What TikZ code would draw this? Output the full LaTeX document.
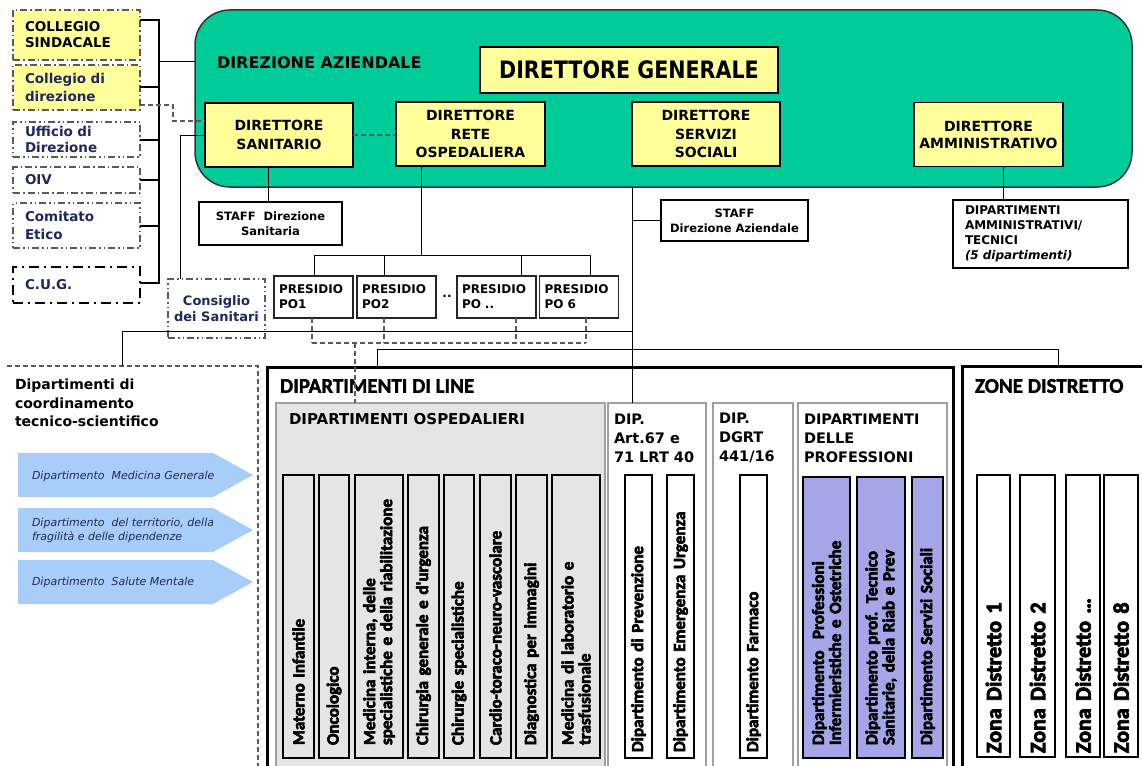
\documentclass[tikz,border=0pt]{standalone}
\usepackage{fontspec}
\usepackage{graphicx}
\setmainfont{DejaVu Sans}
\newfontfamily\calib{Carlito}[BoldFeatures={FakeBold=3.5}]
\newfontfamily\calibt{Carlito}[BoldFeatures={FakeBold=1.6}]
\usetikzlibrary{calc}
\newcommand\myfs[2]{\fontsize{#1}{#2}\selectfont}
\definecolor{grn}{RGB}{0,204,153}
\definecolor{ylw}{RGB}{255,255,153}
\definecolor{navy}{RGB}{31,40,96}
\definecolor{lgray}{RGB}{229,229,229}
\definecolor{mgray}{RGB}{160,160,160}
\definecolor{purp}{RGB}{165,165,232}
\definecolor{lblue}{RGB}{168,205,248}
\definecolor{dgray}{RGB}{90,90,90}
\begin{document}
\begin{tikzpicture}[x=1pt,y=-1pt,
  every node/.style={inner sep=0pt, outer sep=0pt},
  leftbox/.style={draw=dgray, line width=1.3pt, dash pattern=on 7pt off 3pt on 1.5pt off 3pt,
    text width=103pt, inner xsep=12pt, align=left, font=\bfseries\myfs{13.5}{16}},
  dashdotdot/.style={dash pattern=on 7pt off 3pt on 1.5pt off 3pt on 1.5pt off 3pt},
  dirbox/.style={draw=black, line width=1.5pt, fill=ylw, align=center, font=\bfseries\myfs{14}{18.5}},
  staffbox/.style={draw=black, line width=1.5pt, fill=white, align=center, font=\bfseries\myfs{11.5}{15}},
  pobox/.style={draw=black!85, line width=1.5pt, fill=white, align=left, text width=69pt, inner xsep=5pt,
    minimum height=42pt, font=\bfseries\myfs{12}{15}},
  subbox/.style={draw=mgray, line width=2.5pt, anchor=north west, minimum height=400pt},
  bigbox/.style={draw=black, line width=3pt, fill=white, anchor=north west, minimum height=420pt},
  col/.style={draw=black, line width=1.8pt, rotate=90, align=left, font=\calib\bfseries\myfs{17}{17}},
  subtitle/.style={anchor=west, align=left, font=\bfseries\myfs{14.5}{19}},
  conn/.style={draw=black, line width=1pt},
  bk/.style={draw=black, line width=2pt},
  dconn/.style={draw=dgray, line width=1.3pt, dash pattern=on 5pt off 3pt},
  arrtext/.style={anchor=west, align=left, text=navy, font=\itshape\myfs{11}{14}}
]
\useasboundingbox (0,0) rectangle (1142,765);
\clip (0,0) rectangle (1142,765);
\fill[white] (0,0) rectangle (1142,765);

% ---- left column boxes
\node[leftbox, fill=ylw, minimum height=50pt] (CS) at (76.5,35) {COLLEGIO\\SINDACALE};
\node[leftbox, fill=ylw, text=navy, minimum height=45pt, font=\bfseries\myfs{13.5}{18}] (CD) at (76.5,87.5) {Collegio di\\direzione};
\node[leftbox, dashdotdot, text=navy, minimum height=35pt] (UD) at (76.5,139.5) {Ufficio di\\Direzione};
\node[leftbox, text=navy, minimum height=26pt] (OIV) at (76.5,180) {OIV};
\node[leftbox, dashdotdot, text=navy, minimum height=45pt, font=\bfseries\myfs{13.5}{18}] (CE) at (76.5,225.5) {Comitato\\Etico};
\node[leftbox, draw=black, line width=2.5pt, dash pattern=on 10pt off 5pt on 2pt off 5pt, text=navy, minimum height=36pt] (CUG) at (76.5,285) {C.U.G.};

% ---- direzione aziendale
\node[draw=black!80, line width=1.5pt, fill=grn, rounded corners=35pt, minimum width=937pt, minimum height=177pt] (green) at (663.5,98.5) {};
\node[anchor=west, font=\bfseries\myfs{16}{18}] (DAz) at (217,63) {DIREZIONE AZIENDALE};
\node[dirbox, minimum width=298pt, minimum height=46pt] (DG) at (629,70) {\myfs{24}{26}\scalebox{0.86}[1]{DIRETTORE GENERALE}};
\node[dirbox, minimum width=148pt, minimum height=64pt] (DS) at (279,135) {DIRETTORE\\SANITARIO};
\node[dirbox, minimum width=149pt, minimum height=64pt] (DRO) at (470.5,134) {DIRETTORE\\RETE\\OSPEDALIERA};
\node[dirbox, minimum width=148pt, minimum height=64pt] (DSS) at (706,134) {DIRETTORE\\SERVIZI\\SOCIALI};
\node[dirbox, minimum width=149pt, minimum height=64pt, font=\bfseries\myfs{14}{17}] (DA) at (988.5,134.5) {DIRETTORE\\AMMINISTRATIVO};

% ---- staff boxes
\node[staffbox, minimum width=143pt, minimum height=43pt] (SDS) at (270.5,223.5) {STAFF\ \ Direzione\\Sanitaria};
\node[staffbox, minimum width=147pt, minimum height=41pt] (SDA) at (734.5,220.5) {STAFF\\Direzione Aziendale};
\node[draw=black, line width=1.5pt, fill=white, text width=151pt, inner xsep=12pt, minimum height=68pt, align=left,
  font=\bfseries\myfs{12}{15}] (DAM) at (1040.5,234) {DIPARTIMENTI\\AMMINISTRATIVI/\\TECNICI\\\textit{(5 dipartimenti)}};

% ---- presidi
\node[pobox] (PO1) at (313.5,297) {PRESIDIO\\PO1};
\node[pobox] (PO2) at (396.5,297) {PRESIDIO\\PO2};
\node[pobox] (POx) at (496.5,297) {PRESIDIO\\PO ..};
\node[pobox] (PO6) at (579,297) {PRESIDIO\\PO 6};
\node[font=\bfseries\myfs{12}{12}] (dots) at (447,296) {..};
\node[draw=dgray, line width=1.3pt, dashdotdot, minimum width=97pt, minimum height=59pt, align=center, text=navy,
  font=\bfseries\myfs{13}{16}] (CdS) at (216.5,308.5) {Consiglio\\dei Sanitari};

% ---- coordinamento tecnico-scientifico
\coordinate (LT1) at (7,366); \coordinate (LT2) at (258,366); \coordinate (LB) at (258,780);
\draw[dconn] (LT1) -- (LT2) -- (LB);
\node[anchor=west, align=left, font=\bfseries\myfs{14}{18.5}] (coordT) at (15,403) {Dipartimenti di\\coordinamento\\tecnico-scientifico};
\fill[lblue] (18,453) -- (213,453) -- (253,475) -- (213,497) -- (18,497) -- cycle;
\fill[lblue] (18,508) -- (213,508) -- (253,530) -- (213,552) -- (18,552) -- cycle;
\fill[lblue] (18,560) -- (213,560) -- (253,582) -- (213,604) -- (18,604) -- cycle;
\node[arrtext] (ar1) at (32,476) {Dipartimento\ \ Medicina Generale};
\node[arrtext] (ar2) at (32,530) {Dipartimento\ \ del territorio, della\\fragilità e delle dipendenze};
\node[arrtext] (ar3) at (32,582) {Dipartimento\ \ Salute Mentale};

% ---- dipartimenti di line
\node[bigbox, minimum width=686pt] (DL) at (267,367) {};
\node[anchor=west, font=\calibt\bfseries\myfs{21}{21}] (DLt) at (280,386) {DIPARTIMENTI DI LINE};
\node[subbox, fill=lgray, minimum width=329pt] (Osp) at (276,403) {};
\node[subbox, fill=white, minimum width=98pt] (A67) at (608,403) {};
\node[subbox, fill=white, minimum width=80pt] (DGRT) at (713,403) {};
\node[subbox, fill=white, minimum width=149pt] (Prof) at (798,403) {};
\node[subtitle, font=\bfseries\myfs{15}{19}] (Ospt) at (289,419) {DIPARTIMENTI OSPEDALIERI};
\node[subtitle] (A67t) at (614,438) {DIP.\\Art.67 e\\71 LRT 40};
\node[subtitle] (DGRTt) at (719,438) {DIP.\\DGRT\\441/16};
\node[subtitle] (Proft) at (804,438) {DIPARTIMENTI\\DELLE\\PROFESSIONI};

\node[col, fill=lgray, text width=257pt, inner xsep=13pt, minimum height=31pt] (o1) at (298.5,616.5) {Materno Infantile};
\node[col, fill=lgray, text width=257pt, inner xsep=13pt, minimum height=30pt] (o2) at (334,616.5) {Oncologico};
\node[col, fill=lgray, text width=257pt, inner xsep=13pt, minimum height=48pt] (o3) at (379,616.5) {Medicina interna, delle\\specialistiche e della riabilitazione};
\node[col, fill=lgray, text width=257pt, inner xsep=13pt, minimum height=31pt] (o4) at (423.5,616.5) {Chirurgia generale e d'urgenza};
\node[col, fill=lgray, text width=257pt, inner xsep=13pt, minimum height=30pt] (o5) at (459,616.5) {Chirurgie specialistiche};
\node[col, fill=lgray, text width=257pt, inner xsep=13pt, minimum height=31pt] (o6) at (495.5,616.5) {Cardio-toraco-neuro-vascolare};
\node[col, fill=lgray, text width=257pt, inner xsep=13pt, minimum height=31pt] (o7) at (531.5,616.5) {Diagnostica per immagini};
\node[col, fill=lgray, text width=257pt, inner xsep=13pt, minimum height=48pt] (o8) at (576,616.5) {Medicina di laboratorio e\\trasfusionale};

\node[col, fill=white, text width=271pt, inner xsep=6pt, minimum height=27pt] (p1) at (638.5,616.5) {Dipartimento di Prevenzione};
\node[col, fill=white, text width=271pt, inner xsep=6pt, minimum height=27pt] (p2) at (680.5,616.5) {Dipartimento Emergenza Urgenza};
\node[col, fill=white, text width=271pt, inner xsep=6pt, minimum height=27pt] (f1) at (753.5,616.5) {Dipartimento Farmaco};

\node[col, fill=purp, text width=255pt, inner xsep=13pt, minimum height=47pt] (r1) at (826.5,617.5) {Dipartimento\ \ Professioni\\Infermieristiche e Ostetriche};
\node[col, fill=purp, text width=255pt, inner xsep=13pt, minimum height=48pt] (r2) at (881,617.5) {Dipartimento prof. Tecnico\\Sanitarie, della Riab e Prev};
\node[col, fill=purp, text width=255pt, inner xsep=13pt, minimum height=31pt] (r3) at (927.5,617.5) {Dipartimento Servizi Sociali};

% ---- zone distretto
\node[bigbox, minimum width=200pt] (ZD) at (962,366) {};
\node[anchor=west, font=\calibt\bfseries\myfs{21}{21}] (ZDt) at (975,386) {ZONE DISTRETTO};
\node[col, fill=white, text width=274pt, inner xsep=4pt, minimum height=33pt, font=\calib\bfseries\myfs{22}{22}] (z1) at (993.5,616) {Zona Distretto 1};
\node[col, fill=white, text width=274pt, inner xsep=4pt, minimum height=35pt, font=\calib\bfseries\myfs{22}{22}] (z2) at (1037.5,616) {Zona Distretto 2};
\node[col, fill=white, text width=274pt, inner xsep=4pt, minimum height=34pt, font=\calib\bfseries\myfs{22}{22}] (z3) at (1083,616) {Zona Distretto …};
\node[col, fill=white, text width=274pt, inner xsep=4pt, minimum height=34pt, font=\calib\bfseries\myfs{22}{22}] (z4) at (1121,616) {Zona Distretto 8};

% ---- connectors
\coordinate (bt) at (159,20); \coordinate (bb) at (159,283); \coordinate (bj) at (159,62);
\draw[bk] ([yshift=15pt]CS.east) -- (bt) -- (bb) -- (bb -| CUG.east);
\foreach \n in {CD,UD,OIV,CE} \draw[bk] (\n.east) -- (\n.east -| bt);
\draw[conn] (bj) -- (bj -| green.west);
\draw[dconn] ([yshift=-17.5pt]CD.east) -- ++(33,0) |- ([yshift=14pt]DS.west);
\draw[conn] (DS.west) -| ([xshift=12pt]CdS.north west);
\draw[dconn] (DS.east) -- (DS.east -| DRO.west);
\draw[conn] ([xshift=-11pt]DS.south) -- ([xshift=-11pt]DS.south |- SDS.north);

\coordinate (br) at (421,255);
\coordinate (b1) at (314,255); \coordinate (b2) at (384,255); \coordinate (b3) at (521,255); \coordinate (b4) at (590,255);
\draw[conn] (br |- DRO.south) -- (br);
\draw[conn] (b1) -- (b4);
\draw[conn] (b1) -- (b1 |- PO1.north);
\draw[conn] (b2) -- (b2 |- PO2.north);
\draw[conn] (b3) -- (b3 |- POx.north);
\draw[conn] (b4) -- (b4 |- PO6.north);

\coordinate (d1) at (312,343); \coordinate (d2) at (384,343); \coordinate (d3) at (516,343); \coordinate (d4) at (586,343);
\coordinate (dm) at (355,343);
\draw[dconn] (d1 |- PO1.south) -- (d1);
\draw[dconn] (d2 |- PO2.south) -- (d2);
\draw[dconn] (d3 |- POx.south) -- (d3);
\draw[dconn] (d4 |- PO6.south) -- (d4);
\draw[dconn] (d1) -- (d4);
\draw[dconn] (dm) -- (dm |- Osp.north);

\coordinate (ml) at (122,331); \coordinate (mr) at (632,331);
\draw[conn] (ml |- LT1) -- (ml) -- (mr);
\draw[conn] (DSS.west |- green.south) -- (DSS.west |- A67.north);
\draw[conn] (DSS.west |- SDA.west) -- (SDA.west);
\coordinate (l1) at (377,349); \coordinate (l2) at (1058,349);
\draw[conn] (l1 |- DL.north) -- (l1) -- (l2) -- (l2 |- ZD.north);
\draw[conn] ([xshift=14.5pt]DA.south) -- ([xshift=14.5pt]DA.south |- DAM.north);
\end{tikzpicture}
\end{document}
